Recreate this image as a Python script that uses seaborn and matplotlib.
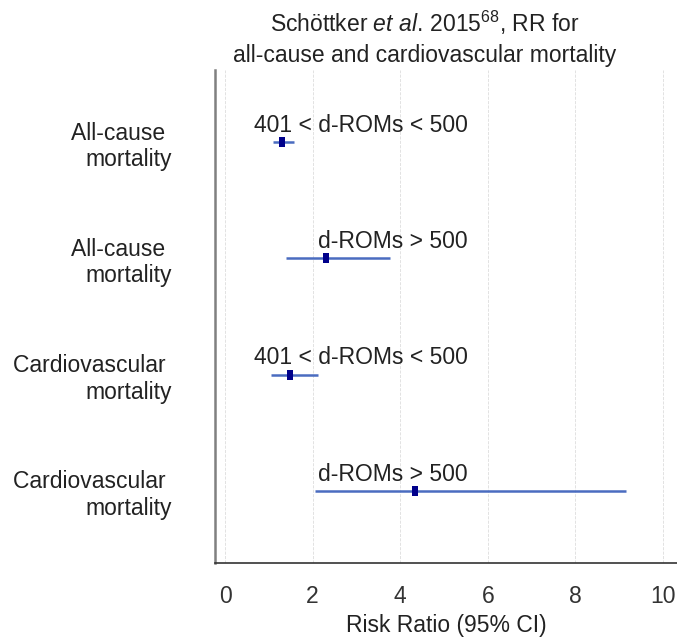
import matplotlib
matplotlib.use("Agg")
import matplotlib.pyplot as plt
import seaborn as sns
import pandas as pd
from matplotlib.ticker import MultipleLocator

# values
outcomes = ["All-cause \nmortality", "All-cause \nmortality",
            "Cardiovascular \nmortality", "Cardiovascular \nmortality"]
groups = ["401 < d-ROMs < 500", "d-ROMs > 500", "401 < d-ROMs < 500", "d-ROMs > 500"]
rr = [1.31, 2.30, 1.49, 4.34]
ci_low = [1.10, 1.40, 1.05, 2.05]
ci_high = [1.58, 3.77, 2.12, 9.16]

df = pd.DataFrame({"row": range(len(rr)), "rr": rr, "lo": ci_low, "hi": ci_high})

sns.set_style("white")
plt.rcParams["font.family"] = ["Liberation Sans", "DejaVu Sans"]
plt.rcParams["mathtext.fontset"] = "custom"
plt.rcParams["mathtext.rm"] = "Liberation Sans"
plt.rcParams["mathtext.it"] = "Liberation Sans:italic"

fs = 16.5
fig = plt.figure(figsize=(6.77, 6.37), dpi=100)
ax = fig.add_axes([215 / 677, 1 - 563 / 637, 462 / 677, (563 - 70) / 637])

# confidence intervals
ax.hlines(df["row"], df["lo"], df["hi"], color="#4a6cc0", lw=1.8, zorder=2)
box = [(-0.6, -1), (0.6, -1), (0.6, 1), (-0.6, 1)]
sns.scatterplot(data=df, x="rr", y="row", marker=box, s=55, color="#00008b",
                edgecolor="#00008b", linewidth=0, ax=ax, zorder=3)

for i, g in enumerate(groups):
    ax.text(5.55, i - 0.145, g, ha="right", va="center", fontsize=fs, color="#222222")

ax.set_xlim(-0.23, 10.32)
ax.set_ylim(3.62, -0.62)
ax.set_yticks(range(len(outcomes)))
ax.set_yticklabels(outcomes, fontsize=fs, multialignment="right", color="#222222")
ax.tick_params(axis="y", length=0, pad=31)

ax.xaxis.set_major_locator(MultipleLocator(2))
ax.xaxis.set_minor_locator(MultipleLocator(1))
ax.tick_params(axis="x", which="major", direction="in", length=8, width=1.2,
               labelsize=fs, pad=16, colors="#333333")
ax.tick_params(axis="x", which="minor", direction="in", length=4, width=0.8,
               color="#777777")
ax.grid(axis="x", which="major", ls="--", lw=0.6, color="#dddddd", zorder=0)

for s in ["top", "right"]:
    ax.spines[s].set_visible(False)
ax.spines["left"].set_color("#808080")
ax.spines["left"].set_linewidth(1.8)
ax.spines["bottom"].set_color("#333333")
ax.spines["bottom"].set_linewidth(1.2)

ax.set_xlabel("Risk Ratio (95% CI)", fontsize=fs, color="#222222", labelpad=4)
ax.set_ylabel("")

fig.text(425 / 677, 1 - 67 / 637,
         "Schöttker $\\mathit{et\\ al.}\\,2015^{68}$, RR for\nall-cause and cardiovascular mortality",
         ha="center", va="bottom", fontsize=fs, color="#222222", linespacing=1.4)

fig.savefig("out.png", dpi=100)
